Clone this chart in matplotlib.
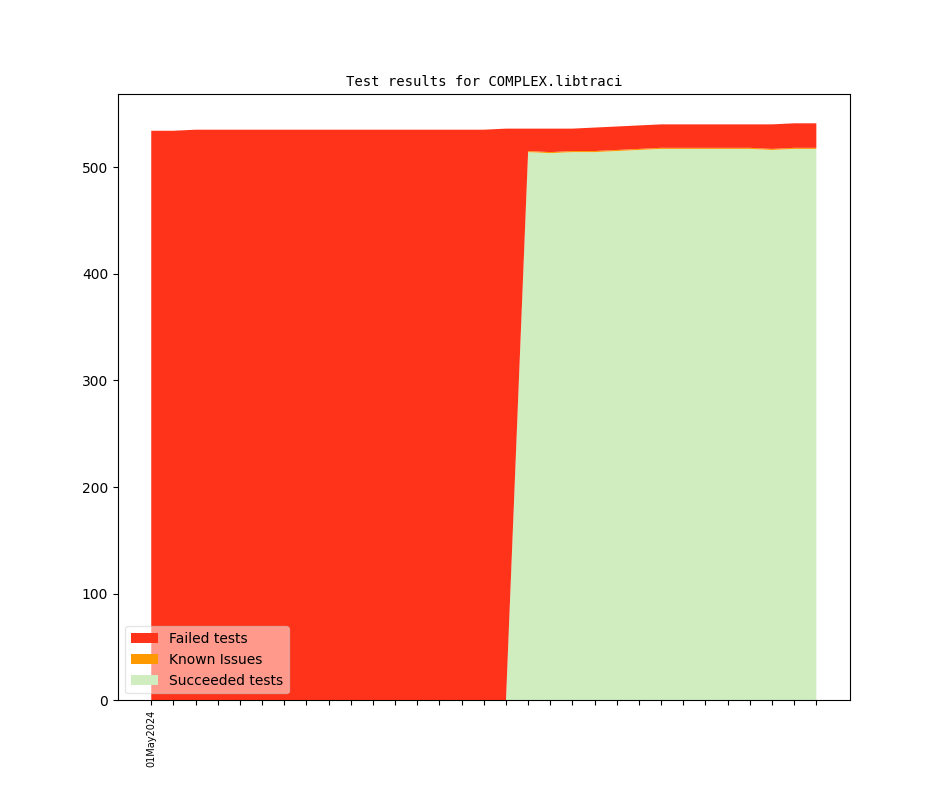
import matplotlib
matplotlib.use("Agg")
import matplotlib.pyplot as plt
import numpy as np

days = list(range(1, 32))
tick_labels = ["01May2024"] + [""] * 30

totals = [534, 534] + [535] * 14 + [536, 536, 536, 536, 537, 538, 539] + [540] * 6 + [541, 541]
succeeded = [0] * 17 + [514, 513, 514, 514, 515, 516, 517, 517, 517, 517, 517, 516, 517, 517]
known = [0] * 17 + [1] * 14
failed = [t - s - k for t, s, k in zip(totals, succeeded, known)]

fig = plt.figure(figsize=(9.44, 7.87), dpi=100)
ax = fig.add_subplot(111)
x = np.arange(len(days))
polys = ax.stackplot(x, succeeded, known, failed,
                     colors=["#cfedbf", "#ff9900", "#ff3319"],
                     labels=["Succeeded tests", "Known Issues", "Failed tests"])
handles, labels = ax.get_legend_handles_labels()
ax.legend(handles[::-1], labels[::-1], loc="lower left", framealpha=0.5)
ax.set_xticks(x)
ax.set_xticklabels(tick_labels, rotation=90, fontsize=7)
ax.set_title("Test results for COMPLEX.libtraci", fontsize=10, family="DejaVu Sans Mono")
fig.savefig("out.png", dpi=100)
